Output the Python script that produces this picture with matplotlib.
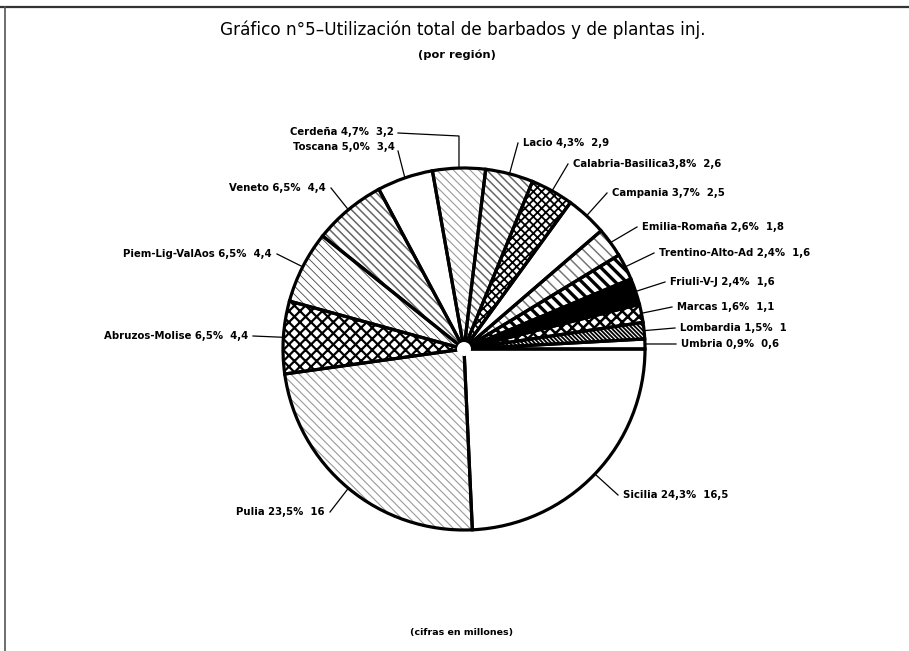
import numpy as np
import matplotlib
matplotlib.use("Agg")
import matplotlib.pyplot as plt
import matplotlib.patches as mpatches

# ---- data ----
regions = ['Sicilia', 'Pulia', 'Abruzos-Molise', 'Piem-Lig-ValAos', 'Veneto',
           'Toscana', 'Cerdeña', 'Lacio', 'Calabria-Basilica', 'Campania',
           'Emilia-Romaña', 'Trentino-Alto-Ad', 'Friuli-V-J', 'Marcas',
           'Lombardia', 'Umbria']
values = [16.5, 16, 4.4, 4.4, 4.4, 3.4, 3.2, 2.9, 2.6, 2.5, 1.8, 1.6, 1.6, 1.1, 1, 0.6]
pct_labels = ['24,3', '23,5', '6,5', '6,5', '6,5', '5,0', '4,7', '4,3', '3,8',
              '3,7', '2,6', '2,4', '2,4', '1,6', '1,5', '0,9']

title = 'Gráfico n°5–Utilización total de barbados y de plantas inj.'
subtitle = '(por región)'
footnote = '(cifras en millones)'

# ---- styles (face, hatch, hatch colour, hatch linewidth) ----
styles = [
    ('white', '', 'black', 1.0),                  # Sicilia
    ('white', '\\\\\\\\', '#9a9a9a', 0.8),        # Pulia
    ('white', 'xxx', 'black', 1.6),               # Abruzos-Molise
    ('white', '\\\\\\\\', '#444444', 0.6),        # Piem
    ('white', '\\\\\\\\', '#666666', 1.1),        # Veneto
    ('white', '', 'black', 1.0),                  # Toscana
    ('white', '\\\\\\\\', '#9a9a9a', 0.8),        # Cerdeña
    ('white', '\\\\\\\\', '#666666', 1.1),        # Lacio
    ('white', 'xxxx', 'black', 1.3),              # Calabria
    ('white', '', 'black', 1.0),                  # Campania
    ('white', '\\\\\\', '#777777', 1.1),          # Emilia
    ('white', '\\\\\\', 'black', 2.4),            # Trentino
    ('black', '', 'black', 1.0),                  # Friuli
    ('white', 'xxx', 'black', 1.8),               # Marcas
    ('white', '\\\\\\\\\\\\\\\\', 'black', 1.3),  # Lombardia
    ('white', '', 'black', 1.0),                  # Umbria
]

# ---- layout (pixel coordinates, y down) ----
W, H = 909, 651
center = (464, 349)
radius = 181
# (line start x, line start y, text side)
label_anchor = [
    (618, 495, 'L'), (330, 512, 'R'), (253, 336, 'R'), (277, 254, 'R'),
    (331, 188, 'R'), (398, 151, 'T'), (398, 133, 'E'), (518, 143, 'L'),
    (568, 164, 'L'), (607, 193, 'L'), (637, 227, 'L'), (654, 253, 'L'),
    (665, 282, 'L'), (672, 307, 'L'), (675, 328, 'L'), (676, 344, 'L'),
]

fig = plt.figure(figsize=(W / 100, H / 100), dpi=100)
ax = fig.add_axes([0, 0, 1, 1])

# hatched fills
wedges, _ = ax.pie(values, startangle=0, counterclock=True, center=center,
                   radius=radius, wedgeprops=dict(linewidth=0))
for w, (fc, hatch, hc, hlw) in zip(wedges, styles):
    w.set_facecolor(fc)
    w.set_edgecolor(hc)
    w.set_linewidth(0)
    if hatch:
        w.set_hatch(hatch)
        if hasattr(w, 'set_hatch_linewidth'):
            w.set_hatch_linewidth(hlw)

# black outlines
outl, _ = ax.pie(values, startangle=0, counterclock=True, center=center,
                 radius=radius,
                 wedgeprops=dict(facecolor='none', edgecolor='black',
                                 linewidth=2.3))
# small white hole at the centre, like the original drawing
ax.add_patch(mpatches.Circle(center, 7, facecolor='white', edgecolor='none',
                             zorder=5))

ax.set_xlim(0, W)
ax.set_ylim(H, 0)
ax.set_axis_off()

lab_font = dict(fontsize=7.3, fontweight='bold', family='DejaVu Sans',
                va='center')
for w, reg, p, v, (lx, ly, side) in zip(outl, regions, pct_labels, values,
                                         label_anchor):
    th = np.deg2rad((w.theta1 + w.theta2) / 2)
    ex = center[0] + radius * np.cos(th)
    ey = center[1] + radius * np.sin(th)
    vs = ('%g' % v).replace('.', ',')
    sep = '' if reg.startswith('Calabria') else ' '
    text = f'{reg}{sep}{p}%  {vs}'
    if side == 'E':
        ax.plot([lx, ex, ex], [ly, ly + 3, ey], color='black', lw=0.9,
                zorder=6)
        ax.text(lx - 4, ly - 1, text, ha='right', **lab_font)
    else:
        ax.plot([lx, ex], [ly, ey], color='black', lw=0.9, zorder=6)
        if side == 'L':
            ax.text(lx + 5, ly, text, ha='left', **lab_font)
        elif side == 'R':
            ax.text(lx - 5, ly, text, ha='right', **lab_font)
        elif side == 'T':
            ax.text(lx - 3, ly - 4, text, ha='right', **lab_font)

# frame lines
ax.plot([0, W], [7, 7], color='#333333', lw=1.6)
ax.plot([5, 5], [7, H], color='#555555', lw=1.2)

ax.text(463, 30, title, ha='center', va='center', fontsize=12.2,
        family='DejaVu Sans')
ax.text(457, 55, subtitle, ha='center', va='center', fontsize=8.2,
        fontweight='bold', family='DejaVu Sans')
ax.text(462, 633, footnote, ha='center', va='center', fontsize=6.8,
        fontweight='bold', family='DejaVu Sans')

fig.savefig('out.png', dpi=100)
